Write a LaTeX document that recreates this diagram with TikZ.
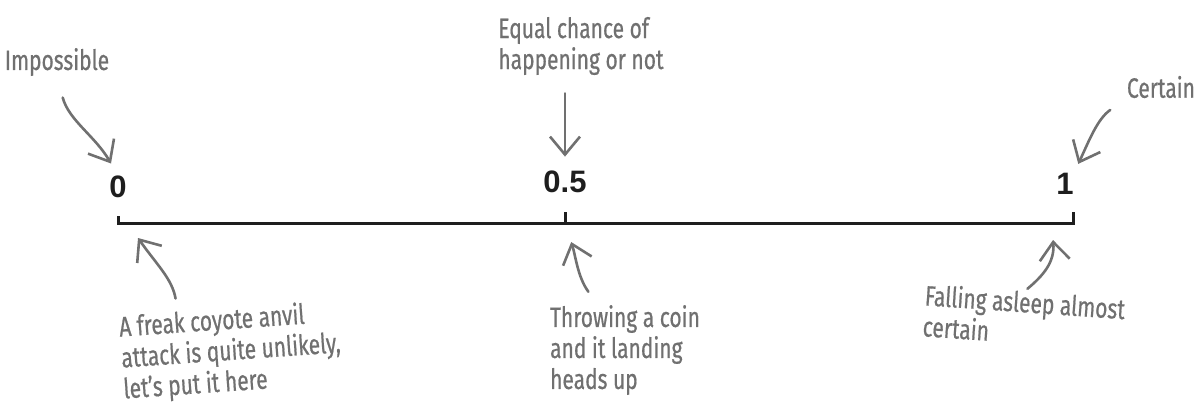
\documentclass[tikz,border=0pt]{standalone}
\usepackage{fontspec}
\usepackage{xcolor}
\usepackage{tikz}
\usetikzlibrary{arrows.meta}
\setmainfont{Liberation Sans}
\newfontfamily\handfont[FakeStretch=0.75, FakeBold=0.6]{Fira Sans}
\definecolor{pen}{RGB}{112,112,112}
\definecolor{ink}{RGB}{30,30,30}

\begin{document}
\begin{tikzpicture}[
    x=0.5pt, y=0.5pt,
    num/.style={font=\fontsize{15.5}{17}\selectfont\bfseries, text=ink, inner sep=0pt},
    note/.style={font=\handfont\fontsize{14}{15.5}\selectfont, text=pen, align=left, inner sep=0pt},
    axis/.style={draw=ink, line width=1.5pt},
    hand/.style={draw=pen, line width=1.3pt, line cap=round,
      -{Straight Barb[length=9pt, width=15pt]}}]

  \useasboundingbox (0,0) rectangle (1202,-406);

  % number line
  \coordinate (zero) at (118,-223);
  \coordinate (half) at (565,-223);
  \coordinate (one) at (1073,-223);
  \draw[axis] (118,-216) -- (zero) -- (one) -- (1073,-212);
  \draw[axis] (half) -- (565,-212);

  \node[num] (lbl0) at (118,-187) {0};
  \node[num] (lbl05) at (565,-182) {0.5};
  \node[num] (lbl1) at (1065,-184) {1};

  % notes above
  \node[note] (imp) at (57,-62) {Impossible};
  \node[note] (equal) at (581,-46) {Equal chance of\\ happening or not};
  \node[note] (certain) at (1161,-87) {Certain};

  \draw[hand, shorten <=11pt, shorten >=7pt] (imp.south) to[out=-75, in=120] (lbl0.north);
  \draw[hand, shorten <=9pt, shorten >=7pt] (lbl05.north |- equal.south) -- (lbl05.north);
  \draw[hand, shorten <=10pt, shorten >=5pt] (certain.south west) to[out=215, in=65] (lbl1.north east);

  % notes below
  \node[note, rotate=4] (freak) at (231,-352)
    {A freak coyote anvil\\ attack is quite unlikely,\\ let’s put it here};
  \node[note] (throw) at (625,-350) {Throwing a coin\\ and it landing\\ heads up};
  \node[note, rotate=-4] (fall) at (1024,-317) {Falling asleep almost\\ certain};

  \coordinate (tip0) at ([shift={(20,-15)}]zero);
  \coordinate (tip1) at ([shift={(-20,-17)}]one);
  \draw[hand, shorten <=6pt] (freak.138) to[out=100, in=-55] (tip0);
  \draw[hand, shorten <=8pt, shorten >=10pt] (throw.121) to[out=126, in=-72] (half);
  \draw[hand, shorten <=1pt] (fall.north) to[out=40, in=-85] (tip1);
\end{tikzpicture}
\end{document}
